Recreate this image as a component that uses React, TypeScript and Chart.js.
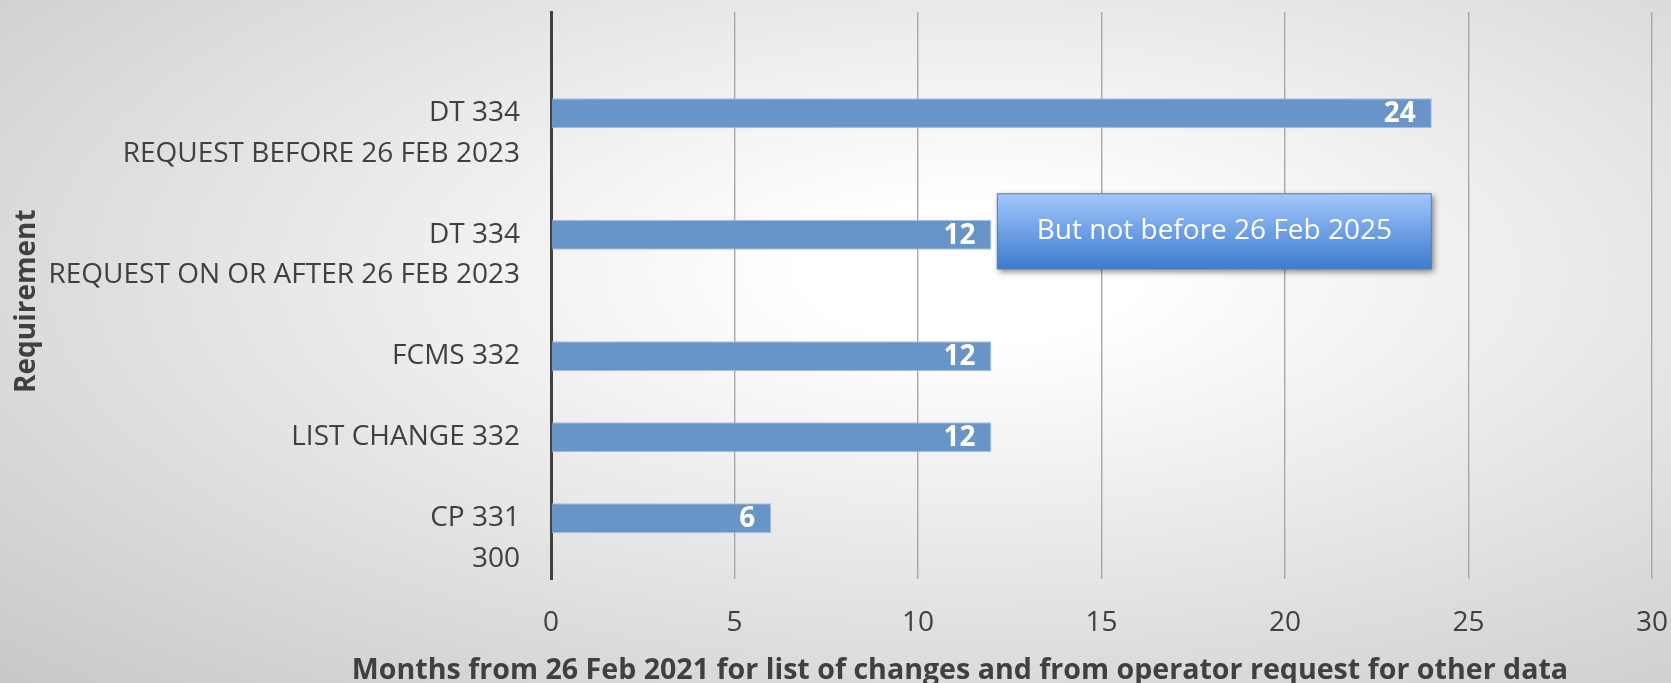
import React, { useEffect, useRef } from "react";
import { Chart, registerables } from "chart.js";

Chart.register(...registerables);

const categories = [
  "",
  "",
  "DT 334",
  "REQUEST BEFORE 26 FEB 2023",
  "",
  "DT 334",
  "REQUEST ON OR AFTER 26 FEB 2023",
  "",
  "FCMS 332",
  "",
  "LIST CHANGE 332",
  "",
  "CP 331",
  "300",
];
const months: (number | null)[] = [null, null, 24, null, null, 12, null, null, 12, null, 12, null, 6, null];
const xTitle = "Months from 26 Feb 2021 for list of changes and from operator request for other data";
const yTitle = "Requirement";
const noteText = "But not before 26 Feb 2025";
const noteFrom = 12.15;
const noteTo = 24;
const noteCatTop = 4;
const noteCatBottom = 6;

const FONT = "'Open Sans', sans-serif";

export default function App() {
  const ref = useRef<HTMLCanvasElement>(null);
  useEffect(() => {
    const canvas = ref.current!;
    const labelsPlugin = {
      id: "barLabels",
      afterDatasetsDraw(chart: any) {
        const ctx = chart.ctx;
        const meta = chart.getDatasetMeta(0);
        ctx.save();
        ctx.fillStyle = "#ffffff";
        ctx.font = `bold 28px ${FONT}`;
        ctx.textAlign = "right";
        ctx.textBaseline = "middle";
        meta.data.forEach((bar: any, i: number) => {
          const v = months[i];
          if (v == null) return;
          ctx.fillText(String(v), bar.x - 16, bar.y + 1);
        });
        ctx.restore();
      },
    };
    const notePlugin = {
      id: "note",
      afterDraw(chart: any) {
        const ctx = chart.ctx;
        const xs = chart.scales.x;
        const ys = chart.scales.y;
        const x0 = xs.getPixelForValue(noteFrom);
        const x1 = xs.getPixelForValue(noteTo);
        const y0 = ys.getPixelForValue(noteCatTop) - 1;
        const y1 = ys.getPixelForValue(noteCatBottom) - 6;
        ctx.save();
        ctx.shadowColor = "rgba(0,0,0,0.45)";
        ctx.shadowBlur = 6;
        ctx.shadowOffsetX = 2;
        ctx.shadowOffsetY = 3;
        const g = ctx.createLinearGradient(0, y0, 0, y1);
        g.addColorStop(0, "#a3c8fb");
        g.addColorStop(0.5, "#6fa0e6");
        g.addColorStop(1, "#3d7bcb");
        ctx.fillStyle = g;
        ctx.fillRect(x0, y0, x1 - x0, y1 - y0);
        ctx.restore();
        ctx.save();
        ctx.strokeStyle = "#4f81bd";
        ctx.lineWidth = 1;
        ctx.strokeRect(x0 + 0.5, y0 + 0.5, x1 - x0 - 1, y1 - y0 - 1);
        ctx.fillStyle = "#ffffff";
        ctx.font = `28px ${FONT}`;
        ctx.textAlign = "center";
        ctx.textBaseline = "middle";
        ctx.fillText(noteText, (x0 + x1) / 2, (y0 + y1) / 2);
        ctx.restore();
      },
    };
    const titlePlugin = {
      id: "axisTitles",
      afterDraw(chart: any) {
        const ctx = chart.ctx;
        ctx.save();
        ctx.fillStyle = "#404040";
        ctx.font = `bold 28.6px ${FONT}`;
        ctx.textAlign = "center";
        ctx.textBaseline = "middle";
        ctx.fillText(xTitle, chart.width * 0.5745, chart.height - 12);
        ctx.restore();
        ctx.save();
        ctx.fillStyle = "#404040";
        ctx.font = `bold 28px ${FONT}`;
        ctx.textAlign = "center";
        ctx.textBaseline = "middle";
        ctx.translate(27, chart.height * 0.441);
        ctx.rotate(-Math.PI / 2);
        ctx.fillText(yTitle, 0, 0);
        ctx.restore();
      },
    };
    const chart = new Chart(canvas, {
      type: "bar",
      data: {
        labels: categories,
        datasets: [
          {
            data: months,
            backgroundColor: "#6894c7",
            borderColor: "#a3c0e4",
            borderWidth: 1,
            barPercentage: 0.74,
            categoryPercentage: 1,
          },
        ],
      },
      options: {
        indexAxis: "y",
        animation: false,
        responsive: false,
        maintainAspectRatio: false,
        layout: { padding: { top: 12, left: 0, right: 0, bottom: 0 } },
        plugins: { legend: { display: false }, tooltip: { enabled: false } },
        scales: {
          x: {
            type: "linear",
            min: 0,
            max: 30,
            ticks: { stepSize: 5, color: "#404040", font: { family: FONT, size: 28 }, padding: 27, maxRotation: 0 },
            grid: {
              drawTicks: false,
              color: (c: any) => (c.tick && c.tick.value === 0 ? "rgba(0,0,0,0)" : "#a8a8a8"),
              lineWidth: 1.4,
            },
            border: { display: false },
            afterFit: (s: any) => {
              s.height = 104;
              s.paddingRight = 19;
              s.paddingLeft = 0;
            },
          },
          y: {
            type: "category",
            ticks: {
              autoSkip: false,
              color: "#404040",
              font: { family: FONT, size: 28 },
              padding: 31,
            },
            grid: { display: false, drawTicks: false },
            border: { display: true, color: "#404040", width: 3 },
            afterFit: (s: any) => {
              s.width = 551;
              s.paddingTop = 0;
              s.paddingBottom = 0;
            },
          },
        },
      },
      plugins: [labelsPlugin, notePlugin, titlePlugin],
    });
    return () => chart.destroy();
  }, []);
  return (
    <div
      style={{
        position: "absolute",
        left: 0,
        top: 0,
        width: 1671,
        height: 683,
        background:
          "radial-gradient(ellipse farthest-corner at 58% 40%, #ffffff 0%, #ffffff 12%, #c8c8c8 100%)",
      }}
    >
      <canvas ref={ref} width={1671} height={683} style={{ display: "block" }} />
    </div>
  );
}
